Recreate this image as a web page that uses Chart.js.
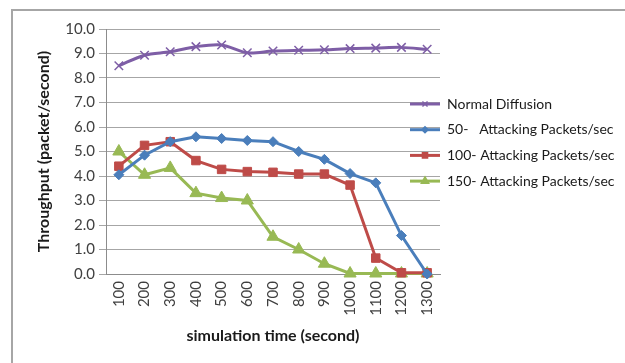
<!DOCTYPE html>
<html>
<head>
<meta charset="utf-8">
<script src="https://cdn.jsdelivr.net/npm/chart.js@4.4.1/dist/chart.umd.min.js"></script>
<style>
html,body{margin:0;padding:0;background:#fff;}
#wrap{position:absolute;left:0;top:0;width:625px;height:363px;}
</style>
</head>
<body>
<div id="wrap"><canvas id="c" width="625" height="363"></canvas></div>
<script>
const categories = ['100','200','300','400','500','600','700','800','900','1000','1100','1200','1300'];
const normalDiffusion = [8.5, 8.93, 9.07, 9.28, 9.35, 9.03, 9.1, 9.13, 9.15, 9.2, 9.22, 9.25, 9.17];
const attack50 = [4.05, 4.85, 5.4, 5.6, 5.53, 5.45, 5.4, 5.0, 4.68, 4.1, 3.72, 1.57, 0.0];
const attack100 = [4.4, 5.25, 5.4, 4.63, 4.27, 4.18, 4.15, 4.08, 4.08, 3.63, 0.65, 0.05, 0.05];
const attack150 = [5.0, 4.05, 4.33, 3.3, 3.1, 3.0, 1.52, 1.0, 0.42, 0.02, 0.02, 0.02, 0.02];
const seriesLabels = ['Normal Diffusion', '50-   Attacking Packets/sec', '100- Attacking Packets/sec', '150- Attacking Packets/sec'];
const yTicks = [0,1,2,3,4,5,6,7,8,9,10];

const FONT = 'Lato, "Open Sans", sans-serif';
const colors = ['#7E5EA6', '#4A7EBB', '#BE4B48', '#98B954'];
const styles = ['crossRot', 'rectRot', 'rect', 'triangle'];
const radii = [6, 5, 6, 7];

const frame = {
  id: 'frame',
  beforeDraw(chart) {
    const ctx = chart.ctx;
    ctx.save();
    ctx.fillStyle = '#fff';
    ctx.fillRect(0, 0, chart.width, chart.height);
    ctx.strokeStyle = '#A6A6A6';
    ctx.lineWidth = 2;
    ctx.beginPath();
    ctx.moveTo(12, chart.height);
    ctx.lineTo(12, 10);
    ctx.lineTo(chart.width, 10);
    ctx.stroke();
    ctx.restore();
  }
};

const legendPlugin = {
  id: 'customLegend',
  afterDraw(chart) {
    const ctx = chart.ctx;
    ctx.save();
    chart.data.datasets.forEach((ds, i) => {
      const y = 104 + i * 25.7;
      ctx.strokeStyle = ds.borderColor;
      ctx.fillStyle = ds.borderColor;
      ctx.lineWidth = 3;
      ctx.beginPath();
      ctx.moveTo(410, y);
      ctx.lineTo(440, y);
      ctx.stroke();
      ctx.lineWidth = 1.5;
      Chart.helpers.drawPoint(ctx, {
        pointStyle: ds.pointStyle, radius: ds.pointRadius * 0.6, borderWidth: 1.5
      }, 425, y);
      ctx.fillStyle = '#1a1a1a';
      ctx.font = '14px ' + FONT;
      ctx.textBaseline = 'middle';
      ctx.textAlign = 'left';
      ctx.fillText(ds.label, 447, y);
    });
    ctx.restore();
  }
};

const datasets = [normalDiffusion, attack50, attack100, attack150].map((d, i) => ({
  label: seriesLabels[i],
  data: d,
  borderColor: colors[i],
  backgroundColor: colors[i],
  pointBorderColor: colors[i],
  pointBackgroundColor: colors[i],
  borderWidth: 3,
  pointStyle: styles[i],
  pointRadius: radii[i],
  pointBorderWidth: i === 0 ? 1.5 : 1,
  tension: i === 0 ? 0.3 : 0,
  clip: false
}));

new Chart(document.getElementById('c'), {
  type: 'line',
  data: { labels: categories, datasets },
  plugins: [frame, legendPlugin],
  options: {
    responsive: false,
    animation: false,
    devicePixelRatio: 1,
    layout: { padding: { left: 34, right: 185, top: 29, bottom: 18 } },
    plugins: { legend: { display: false }, tooltip: { enabled: false } },
    scales: {
      x: {
        offset: true,
        grid: { display: false, drawTicks: false },
        border: { color: '#8C8C8C', width: 1 },
        ticks: { color: '#404040', font: { family: FONT, size: 15 }, minRotation: 90, maxRotation: 90, padding: 7 },
        title: { display: true, text: 'simulation time (second)', color: '#1a1a1a', font: { family: FONT, size: 16, weight: 'bold' }, padding: { top: 0, bottom: 0 } },
        afterFit(s) { s.height = 71; }
      },
      y: {
        min: 0, max: 10,
        afterBuildTicks(s) { s.ticks = yTicks.map(v => ({ value: v })); },
        grid: { color: '#A6A6A6', tickLength: 7 },
        border: { color: '#8C8C8C', width: 1 },
        ticks: { color: '#404040', font: { family: FONT, size: 15 }, padding: 4, callback: v => Number(v).toFixed(1) },
        title: { display: true, text: 'Throughput (packet/second)', color: '#1a1a1a', font: { family: FONT, size: 16, weight: 'bold' }, padding: { top: 0, bottom: 0 } },
        afterFit(s) { s.width = 72; }
      }
    }
  }
});
</script>
</body>
</html>
